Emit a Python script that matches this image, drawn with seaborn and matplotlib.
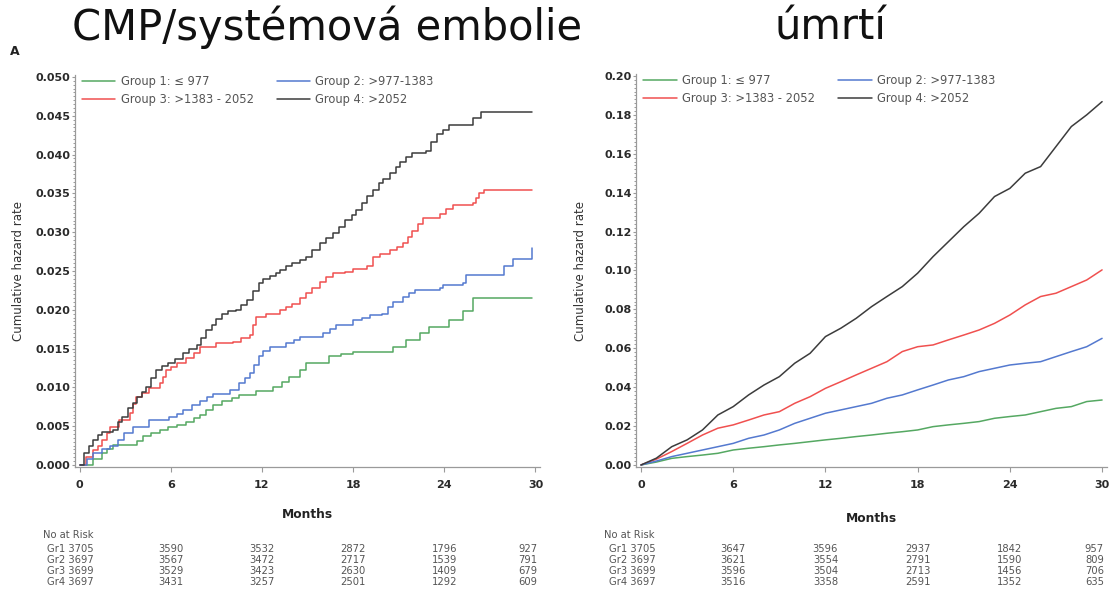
import matplotlib
matplotlib.use("Agg")
import matplotlib.pyplot as plt
from matplotlib.ticker import MultipleLocator, AutoMinorLocator, FormatStrFormatter
import seaborn as sns
import pandas as pd

# ---------------- data ----------------
group_labels = ["Group 1: \u2264 977", "Group 2: >977-1383",
                "Group 3: >1383 - 2052", "Group 4: >2052"]
group_colors = ["#55a862", "#5479cf", "#f0504f", "#3c3c3c"]

# Stroke / systemic embolism: cumulative hazard (step function, month of change)
cmp_g1_month = [0, 0.9, 1.5, 1.8, 2.2, 3.8, 4.2, 4.7, 5.3, 5.8, 6.4, 7.0, 7.5, 7.9, 8.3,
                8.8, 9.4, 10.0, 10.5, 11.6, 12.7, 13.3, 13.8, 14.5, 14.9, 16.4, 17.2,
                18.0, 20.6, 21.5, 22.4, 23.0, 24.3, 25.2, 25.9, 29.8]
cmp_g1_rate = [0, 0.0008, 0.0015, 0.0020, 0.0026, 0.0031, 0.0037, 0.0041, 0.0045, 0.0049,
               0.0052, 0.0056, 0.0060, 0.0065, 0.0071, 0.0077, 0.0082, 0.0086, 0.0090,
               0.0095, 0.0101, 0.0107, 0.0114, 0.0122, 0.0131, 0.0140, 0.0143, 0.0146,
               0.0152, 0.0161, 0.0170, 0.0178, 0.0187, 0.0198, 0.0215, 0.0215]

cmp_g2_month = [0, 0.5, 0.9, 1.5, 2.0, 2.5, 2.9, 3.5, 4.6, 5.9, 6.4, 6.8, 7.4, 7.9, 8.4,
                8.8, 9.9, 10.5, 10.9, 11.2, 11.5, 11.8, 12.1, 12.5, 13.6, 14.1, 14.5,
                16.0, 16.5, 16.9, 18.0, 18.6, 19.1, 19.9, 20.3, 20.6, 21.3, 21.7, 22.1,
                23.7, 23.9, 25.2, 25.4, 27.9, 28.5, 29.8]
cmp_g2_rate = [0, 0.0008, 0.0015, 0.0020, 0.0024, 0.0032, 0.0041, 0.0049, 0.0058, 0.0062,
               0.0066, 0.0071, 0.0077, 0.0082, 0.0087, 0.0092, 0.0097, 0.0105, 0.0112,
               0.0118, 0.0129, 0.0140, 0.0147, 0.0152, 0.0157, 0.0161, 0.0165, 0.0170,
               0.0175, 0.0180, 0.0187, 0.0190, 0.0193, 0.0195, 0.0203, 0.0210, 0.0217,
               0.0222, 0.0226, 0.0228, 0.0232, 0.0234, 0.0245, 0.0256, 0.0266, 0.0279]

cmp_g3_month = [0, 0.4, 0.9, 1.2, 1.5, 1.8, 2.0, 2.6, 3.3, 3.5, 3.7, 4.1, 4.6, 5.3, 5.5,
                5.7, 6.0, 6.4, 7.0, 7.5, 7.9, 9.0, 10.1, 10.6, 11.2, 11.4, 11.6, 12.3,
                13.2, 13.6, 14.0, 14.5, 14.9, 15.3, 15.8, 16.2, 16.7, 17.5, 18.0, 18.9,
                19.3, 19.8, 20.4, 20.9, 21.3, 21.6, 21.9, 22.3, 22.6, 23.7, 24.1, 24.6,
                25.9, 26.1, 26.3, 26.6, 29.8]
cmp_g3_rate = [0, 0.0010, 0.0019, 0.0025, 0.0032, 0.0041, 0.0049, 0.0058, 0.0067, 0.0078,
               0.0088, 0.0093, 0.0099, 0.0105, 0.0114, 0.0122, 0.0126, 0.0131, 0.0138,
               0.0144, 0.0152, 0.0157, 0.0159, 0.0164, 0.0168, 0.0180, 0.0191, 0.0195,
               0.0200, 0.0204, 0.0208, 0.0215, 0.0221, 0.0228, 0.0236, 0.0242, 0.0247,
               0.0249, 0.0253, 0.0256, 0.0268, 0.0272, 0.0277, 0.0281, 0.0286, 0.0294,
               0.0301, 0.0310, 0.0318, 0.0324, 0.0330, 0.0335, 0.0337, 0.0344, 0.0350,
               0.0354, 0.0354]

cmp_g4_month = [0, 0.3, 0.6, 0.9, 1.2, 1.5, 2.2, 2.5, 2.8, 3.2, 3.5, 3.8, 4.1, 4.4, 4.7,
                5.0, 5.4, 5.8, 6.3, 6.8, 7.2, 7.7, 8.0, 8.3, 8.7, 9.0, 9.4, 9.8, 10.3,
                10.6, 11.0, 11.4, 11.8, 12.1, 12.5, 12.9, 13.2, 13.6, 14.0, 14.5, 14.9,
                15.3, 15.8, 16.2, 16.7, 17.1, 17.5, 17.9, 18.2, 18.6, 18.9, 19.3, 19.7,
                20.0, 20.4, 20.8, 21.1, 21.5, 21.9, 22.8, 23.1, 23.5, 23.9, 24.3, 25.9,
                26.4, 29.8]
cmp_g4_rate = [0, 0.0015, 0.0025, 0.0032, 0.0038, 0.0043, 0.0045, 0.0055, 0.0062, 0.0073,
               0.0080, 0.0088, 0.0094, 0.0101, 0.0112, 0.0122, 0.0128, 0.0131, 0.0136,
               0.0144, 0.0149, 0.0155, 0.0164, 0.0174, 0.0181, 0.0188, 0.0195, 0.0198,
               0.0200, 0.0206, 0.0213, 0.0224, 0.0234, 0.0239, 0.0243, 0.0247, 0.0251,
               0.0256, 0.0260, 0.0264, 0.0268, 0.0277, 0.0286, 0.0292, 0.0299, 0.0307,
               0.0316, 0.0322, 0.0329, 0.0337, 0.0346, 0.0354, 0.0363, 0.0369, 0.0376,
               0.0384, 0.0391, 0.0397, 0.0402, 0.0404, 0.0416, 0.0427, 0.0432, 0.0438,
               0.0447, 0.0455, 0.0455]

# All-cause death: cumulative hazard read monthly
mort_month = [0, 1, 2, 3, 4, 5, 6, 7, 8, 9, 10, 11, 12, 13, 14, 15, 16, 17, 18, 19, 20,
              21, 22, 23, 24, 25, 26, 27, 28, 29, 30]
mort_g1_rate = [0, 0.0015, 0.0034, 0.0043, 0.0051, 0.0060, 0.0077, 0.0086, 0.0094, 0.0103,
                0.0111, 0.0120, 0.0129, 0.0137, 0.0146, 0.0154, 0.0163, 0.0171, 0.0180,
                0.0197, 0.0206, 0.0214, 0.0223, 0.0240, 0.0249, 0.0257, 0.0274, 0.0291,
                0.0300, 0.0326, 0.0334]
mort_g2_rate = [0, 0.0020, 0.0043, 0.0060, 0.0077, 0.0094, 0.0111, 0.0137, 0.0154, 0.0180,
                0.0214, 0.0240, 0.0266, 0.0283, 0.0300, 0.0317, 0.0343, 0.0360, 0.0386,
                0.0411, 0.0437, 0.0454, 0.0480, 0.0497, 0.0514, 0.0523, 0.0531, 0.0557,
                0.0583, 0.0608, 0.0651]
mort_g3_rate = [0, 0.0030, 0.0069, 0.0111, 0.0154, 0.0189, 0.0206, 0.0231, 0.0257, 0.0274,
                0.0317, 0.0351, 0.0394, 0.0428, 0.0463, 0.0497, 0.0531, 0.0583, 0.0608,
                0.0617, 0.0643, 0.0668, 0.0694, 0.0728, 0.0771, 0.0823, 0.0866, 0.0883,
                0.0917, 0.0951, 0.1003]
mort_g4_rate = [0, 0.0035, 0.0094, 0.0129, 0.0180, 0.0257, 0.0300, 0.0360, 0.0411, 0.0454,
                0.0523, 0.0574, 0.0660, 0.0703, 0.0754, 0.0814, 0.0866, 0.0917, 0.0986,
                0.1071, 0.1148, 0.1225, 0.1294, 0.1380, 0.1422, 0.1500, 0.1534, 0.1637,
                0.1740, 0.1800, 0.1868]

# Number at risk
risk_months = [0, 6, 12, 18, 24, 30]
risk_rows = ["Gr1", "Gr2", "Gr3", "Gr4"]
cmp_at_risk = [[3705, 3590, 3532, 2872, 1796, 927],
               [3697, 3567, 3472, 2717, 1539, 791],
               [3699, 3529, 3423, 2630, 1409, 679],
               [3697, 3431, 3257, 2501, 1292, 609]]
mort_at_risk = [[3705, 3647, 3596, 2937, 1842, 957],
                [3697, 3621, 3554, 2791, 1590, 809],
                [3699, 3596, 3504, 2713, 1456, 706],
                [3697, 3516, 3358, 2591, 1352, 635]]

x_ticks = [0, 6, 12, 18, 24, 30]

# ---------------- styling ----------------
sns.set_theme(style="ticks")
plt.rcParams["font.family"] = ["DejaVu Sans"]

W, H = 1109, 592
fig = plt.figure(figsize=(W / 100, H / 100), dpi=100)


def fx(px):
    return px / W


def fy(py):
    return 1 - py / H


def long_frame(months_list, rates_list):
    parts = []
    for lab, m, r in zip(group_labels, months_list, rates_list):
        parts.append(pd.DataFrame({"month": m, "rate": r, "group": lab}))
    return pd.concat(parts, ignore_index=True)


palette = dict(zip(group_labels, group_colors))
# legend fills column-wise: this order puts groups 1,2 on the first row
legend_order = [group_labels[0], group_labels[2], group_labels[1], group_labels[3]]

ax1 = fig.add_axes([fx(75), fy(467.3), fx(465), 391.9 / H])
ax2 = fig.add_axes([fx(636.4), fy(467.3), fx(470.3), 392.9 / H])

df_cmp = long_frame([cmp_g1_month, cmp_g2_month, cmp_g3_month, cmp_g4_month],
                    [cmp_g1_rate, cmp_g2_rate, cmp_g3_rate, cmp_g4_rate])
df_mort = long_frame([mort_month] * 4,
                     [mort_g1_rate, mort_g2_rate, mort_g3_rate, mort_g4_rate])

sns.lineplot(data=df_cmp, x="month", y="rate", hue="group", hue_order=legend_order,
             palette=palette, estimator=None, sort=False, drawstyle="steps-post",
             linewidth=1.1, ax=ax1)
sns.lineplot(data=df_mort, x="month", y="rate", hue="group", hue_order=legend_order,
             palette=palette, estimator=None, sort=False, linewidth=1.1, ax=ax2)

ax1.set_xlim(-0.3, 30.3)
ax1.set_ylim(-0.0003, 0.0502)
ax1.yaxis.set_major_locator(MultipleLocator(0.005))
ax1.yaxis.set_major_formatter(FormatStrFormatter("%.3f"))

ax2.set_xlim(-0.3, 30.3)
ax2.set_ylim(-0.0012, 0.2008)
ax2.yaxis.set_major_locator(MultipleLocator(0.02))
ax2.yaxis.set_major_formatter(FormatStrFormatter("%.2f"))

for ax in (ax1, ax2):
    ax.set_xticks(x_ticks)
    ax.yaxis.set_minor_locator(AutoMinorLocator(10))
    ax.set_xlabel("")
    ax.set_ylabel("")
    sns.despine(ax=ax)
    for side in ("left", "bottom"):
        ax.spines[side].set_color("#9a9a9a")
        ax.spines[side].set_linewidth(0.9)
    ax.tick_params(axis="x", which="major", length=3.5, width=0.8, color="#9a9a9a",
                   pad=6, labelsize=8, labelcolor="#2a2a2a")
    ax.tick_params(axis="y", which="major", length=2.5, width=0.8, color="#9a9a9a",
                   pad=1, labelsize=8, labelcolor="#2a2a2a")
    ax.tick_params(axis="y", which="minor", length=1.6, width=0.7, color="#9a9a9a")
    for lab in ax.get_xticklabels() + ax.get_yticklabels():
        lab.set_fontweight("bold")
    sns.move_legend(ax, "upper left", bbox_to_anchor=(0.015, 1.0), ncol=2, title=None,
                    frameon=False, fontsize=8.3, handlelength=2.9, handletextpad=0.45,
                    columnspacing=2.0, labelspacing=0.4, borderpad=0, borderaxespad=0)
    for t in ax.get_legend().get_texts():
        t.set_color("#555555")
    for h in ax.get_legend().legend_handles:
        h.set_linewidth(1.1)

# titles and panel letter
fig.text(fx(72), fy(40), "CMP/systémová embolie", fontsize=30, ha="left",
         va="baseline", color="#111111")
fig.text(fx(775), fy(40), "úmrtí", fontsize=30, ha="left", va="baseline",
         color="#111111")
fig.text(fx(10), fy(55), "A", fontsize=9, fontweight="bold", ha="left",
         va="baseline", color="#222222")

# axis titles
for x_lab, x_mid, y_months in ((18.5, 307.5, 515), (581, 871.5, 518)):
    fig.text(fx(x_lab), fy(271), "Cumulative hazard rate", rotation=90, fontsize=8.5,
             ha="center", va="center", color="#333333")
    fig.text(fx(x_mid), fy(y_months), "Months", fontsize=8.8, fontweight="bold",
             ha="center", va="center", color="#222222")

# number-at-risk tables
row_y = [549, 560, 571, 582]
for ax, table, x_head, x_first in ((ax1, cmp_at_risk, 43, 94), (ax2, mort_at_risk, 604, 656)):
    fig.text(fx(x_head), fy(535), "No at Risk", fontsize=7.2, ha="left", va="center",
             color="#555555")
    for r, (name, counts) in enumerate(zip(risk_rows, table)):
        fig.text(fx(x_first), fy(row_y[r]), f"{name} {counts[0]}", fontsize=7.2,
                 ha="right", va="center", color="#555555")
        for m, c in zip(risk_months[1:], counts[1:]):
            xm = m if m < 30 else 29.5
            px = ax.transData.transform((xm, 0))[0]
            fig.text(px / fig.dpi / fig.get_figwidth(), fy(row_y[r]), str(c),
                     fontsize=7.2, ha="center", va="center", color="#555555")

fig.savefig("out.png", dpi=100)
